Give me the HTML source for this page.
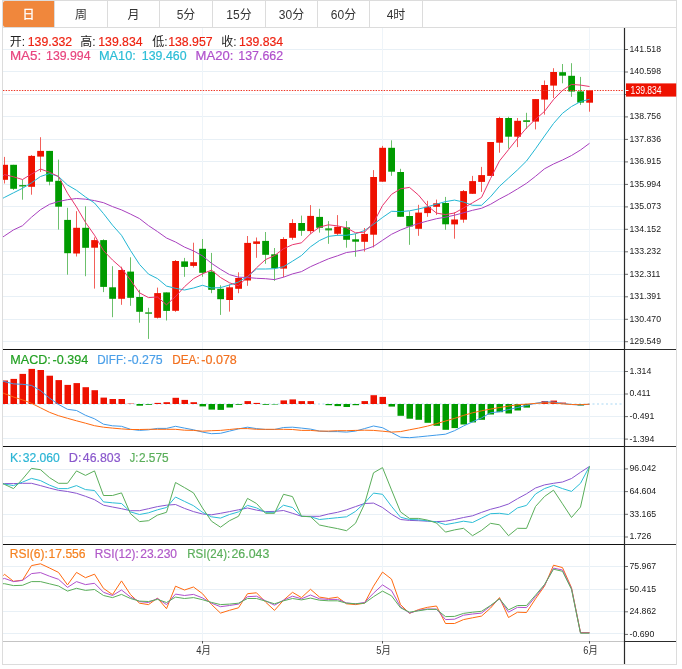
<!DOCTYPE html>
<html lang="zh"><head><meta charset="utf-8"><title>K线图</title>
<style>html,body{margin:0;padding:0;background:#fff}svg{display:block;will-change:transform}text{font-family:"Liberation Sans","Noto Sans CJK SC",sans-serif}</style></head><body>
<svg width="682" height="669" viewBox="0 0 682 669">
<rect width="682" height="669" fill="#fff"/>
<defs><clipPath id="cp"><rect x="3" y="28" width="621.5" height="614"/></clipPath></defs>
<rect x="3" y="49.0" width="621" height="1" fill="#e8f0f6"/>
<rect x="3" y="71.0" width="621" height="1" fill="#e8f0f6"/>
<rect x="3" y="94.0" width="621" height="1" fill="#e8f0f6"/>
<rect x="3" y="116.0" width="621" height="1" fill="#e8f0f6"/>
<rect x="3" y="139.0" width="621" height="1" fill="#e8f0f6"/>
<rect x="3" y="161.0" width="621" height="1" fill="#e8f0f6"/>
<rect x="3" y="184.0" width="621" height="1" fill="#e8f0f6"/>
<rect x="3" y="206.0" width="621" height="1" fill="#e8f0f6"/>
<rect x="3" y="229.0" width="621" height="1" fill="#e8f0f6"/>
<rect x="3" y="251.0" width="621" height="1" fill="#e8f0f6"/>
<rect x="3" y="274.0" width="621" height="1" fill="#e8f0f6"/>
<rect x="3" y="296.0" width="621" height="1" fill="#e8f0f6"/>
<rect x="3" y="319.0" width="621" height="1" fill="#e8f0f6"/>
<rect x="3" y="341.0" width="621" height="1" fill="#e8f0f6"/>
<rect x="3" y="371.0" width="621" height="1" fill="#e8f0f6"/>
<rect x="3" y="394.0" width="621" height="1" fill="#e8f0f6"/>
<rect x="3" y="416.0" width="621" height="1" fill="#e8f0f6"/>
<rect x="3" y="438.0" width="621" height="1" fill="#e8f0f6"/>
<rect x="3" y="469.0" width="621" height="1" fill="#e8f0f6"/>
<rect x="3" y="491.0" width="621" height="1" fill="#e8f0f6"/>
<rect x="3" y="514.0" width="621" height="1" fill="#e8f0f6"/>
<rect x="3" y="536.0" width="621" height="1" fill="#e8f0f6"/>
<rect x="3" y="566.0" width="621" height="1" fill="#e8f0f6"/>
<rect x="3" y="589.0" width="621" height="1" fill="#e8f0f6"/>
<rect x="3" y="611.0" width="621" height="1" fill="#e8f0f6"/>
<rect x="3" y="633.0" width="621" height="1" fill="#e8f0f6"/>
<rect x="202.0" y="28" width="1" height="613" fill="#eef4f9"/>
<rect x="382.0" y="28" width="1" height="613" fill="#eef4f9"/>
<rect x="589.0" y="28" width="1" height="613" fill="#eef4f9"/>
<line x1="3" y1="404" x2="624" y2="404" stroke="#a9d8f3" stroke-width="1.2" stroke-dasharray="2 2.5"/>
<g clip-path="url(#cp)">
<rect x="4.0" y="156.9" width="1" height="26.6" fill="#f2605a"/>
<rect x="1.20" y="164.8" width="6.8" height="15.0" fill="#ee1100"/>
<rect x="13.0" y="164.8" width="1" height="25.2" fill="#6cc06c"/>
<rect x="10.20" y="164.8" width="6.8" height="24.0" fill="#009b00"/>
<rect x="22.0" y="179.5" width="1" height="20.2" fill="#6cc06c"/>
<rect x="19.20" y="185.0" width="6.8" height="1.5" fill="#22a422"/>
<rect x="31.0" y="155.1" width="1" height="39.6" fill="#f2605a"/>
<rect x="28.20" y="155.9" width="6.8" height="30.9" fill="#ee1100"/>
<rect x="40.0" y="137.2" width="1" height="34.8" fill="#f2605a"/>
<rect x="37.20" y="150.9" width="6.8" height="5.7" fill="#ee1100"/>
<rect x="49.0" y="150.9" width="1" height="34.4" fill="#6cc06c"/>
<rect x="46.20" y="150.9" width="6.8" height="30.8" fill="#009b00"/>
<rect x="58.0" y="159.6" width="1" height="70.0" fill="#6cc06c"/>
<rect x="55.20" y="180.8" width="6.8" height="25.9" fill="#009b00"/>
<rect x="67.0" y="207.8" width="1" height="66.9" fill="#6cc06c"/>
<rect x="64.20" y="219.9" width="6.8" height="33.3" fill="#009b00"/>
<rect x="76.0" y="211.2" width="1" height="45.3" fill="#f2605a"/>
<rect x="73.20" y="227.8" width="6.8" height="25.7" fill="#ee1100"/>
<rect x="85.0" y="206.3" width="1" height="69.9" fill="#6cc06c"/>
<rect x="82.20" y="227.8" width="6.8" height="20.0" fill="#009b00"/>
<rect x="94.0" y="237.4" width="1" height="51.2" fill="#f2605a"/>
<rect x="91.20" y="240.1" width="6.8" height="7.6" fill="#ee1100"/>
<rect x="103.0" y="239.3" width="1" height="52.8" fill="#6cc06c"/>
<rect x="100.20" y="240.1" width="6.8" height="46.8" fill="#009b00"/>
<rect x="112.0" y="266.2" width="1" height="51.0" fill="#6cc06c"/>
<rect x="109.20" y="287.3" width="6.8" height="11.5" fill="#009b00"/>
<rect x="121.0" y="266.7" width="1" height="38.1" fill="#f2605a"/>
<rect x="118.20" y="270.0" width="6.8" height="28.8" fill="#ee1100"/>
<rect x="130.0" y="257.3" width="1" height="48.5" fill="#6cc06c"/>
<rect x="127.20" y="271.6" width="6.8" height="26.2" fill="#009b00"/>
<rect x="139.0" y="289.8" width="1" height="32.9" fill="#6cc06c"/>
<rect x="136.20" y="297.0" width="6.8" height="14.8" fill="#009b00"/>
<rect x="148.0" y="307.8" width="1" height="31.1" fill="#6cc06c"/>
<rect x="145.20" y="312.3" width="6.8" height="1.5" fill="#22a422"/>
<rect x="157.0" y="287.6" width="1" height="30.9" fill="#f2605a"/>
<rect x="154.20" y="293.1" width="6.8" height="24.7" fill="#ee1100"/>
<rect x="166.0" y="292.4" width="1" height="28.1" fill="#6cc06c"/>
<rect x="163.20" y="292.4" width="6.8" height="18.5" fill="#009b00"/>
<rect x="175.0" y="260.0" width="1" height="51.8" fill="#f2605a"/>
<rect x="172.20" y="261.0" width="6.8" height="49.8" fill="#ee1100"/>
<rect x="184.0" y="257.9" width="1" height="18.9" fill="#6cc06c"/>
<rect x="181.20" y="261.4" width="6.8" height="5.5" fill="#009b00"/>
<rect x="193.0" y="242.7" width="1" height="24.8" fill="#f2605a"/>
<rect x="190.20" y="262.2" width="6.8" height="3.7" fill="#ee1100"/>
<rect x="202.0" y="239.0" width="1" height="37.8" fill="#6cc06c"/>
<rect x="199.20" y="248.8" width="6.8" height="24.0" fill="#009b00"/>
<rect x="211.0" y="252.9" width="1" height="40.3" fill="#6cc06c"/>
<rect x="208.20" y="271.6" width="6.8" height="18.2" fill="#009b00"/>
<rect x="220.0" y="285.3" width="1" height="29.6" fill="#6cc06c"/>
<rect x="217.20" y="288.8" width="6.8" height="10.4" fill="#009b00"/>
<rect x="229.0" y="284.3" width="1" height="27.3" fill="#f2605a"/>
<rect x="226.20" y="287.3" width="6.8" height="12.7" fill="#ee1100"/>
<rect x="238.0" y="272.3" width="1" height="20.9" fill="#f2605a"/>
<rect x="235.20" y="278.0" width="6.8" height="10.8" fill="#ee1100"/>
<rect x="247.0" y="236.0" width="1" height="49.8" fill="#f2605a"/>
<rect x="244.20" y="242.9" width="6.8" height="37.6" fill="#ee1100"/>
<rect x="256.0" y="237.5" width="1" height="20.3" fill="#f2605a"/>
<rect x="253.20" y="241.4" width="6.8" height="2.5" fill="#ee1100"/>
<rect x="265.0" y="232.0" width="1" height="31.8" fill="#6cc06c"/>
<rect x="262.20" y="240.9" width="6.8" height="13.9" fill="#009b00"/>
<rect x="274.0" y="248.0" width="1" height="32.8" fill="#6cc06c"/>
<rect x="271.20" y="254.3" width="6.8" height="13.9" fill="#009b00"/>
<rect x="283.0" y="237.2" width="1" height="40.0" fill="#f2605a"/>
<rect x="280.20" y="239.0" width="6.8" height="29.6" fill="#ee1100"/>
<rect x="292.0" y="219.2" width="1" height="20.6" fill="#f2605a"/>
<rect x="289.20" y="223.0" width="6.8" height="14.8" fill="#ee1100"/>
<rect x="301.0" y="215.6" width="1" height="20.2" fill="#6cc06c"/>
<rect x="298.20" y="223.0" width="6.8" height="7.8" fill="#009b00"/>
<rect x="310.0" y="205.1" width="1" height="28.7" fill="#f2605a"/>
<rect x="307.20" y="215.9" width="6.8" height="15.2" fill="#ee1100"/>
<rect x="319.0" y="208.8" width="1" height="23.8" fill="#6cc06c"/>
<rect x="316.20" y="216.9" width="6.8" height="10.9" fill="#009b00"/>
<rect x="328.0" y="221.1" width="1" height="22.7" fill="#6cc06c"/>
<rect x="325.20" y="228.3" width="6.8" height="2.1" fill="#22a422"/>
<rect x="337.0" y="215.1" width="1" height="20.5" fill="#f2605a"/>
<rect x="334.20" y="226.8" width="6.8" height="7.0" fill="#ee1100"/>
<rect x="346.0" y="221.1" width="1" height="26.6" fill="#6cc06c"/>
<rect x="343.20" y="227.4" width="6.8" height="12.4" fill="#009b00"/>
<rect x="355.0" y="233.8" width="1" height="22.9" fill="#6cc06c"/>
<rect x="352.20" y="239.3" width="6.8" height="2.4" fill="#009b00"/>
<rect x="364.0" y="228.0" width="1" height="23.6" fill="#f2605a"/>
<rect x="361.20" y="233.9" width="6.8" height="7.9" fill="#ee1100"/>
<rect x="373.0" y="170.1" width="1" height="77.3" fill="#f2605a"/>
<rect x="370.20" y="177.0" width="6.8" height="57.7" fill="#ee1100"/>
<rect x="382.0" y="145.9" width="1" height="35.8" fill="#f2605a"/>
<rect x="379.20" y="147.8" width="6.8" height="33.9" fill="#ee1100"/>
<rect x="391.0" y="140.3" width="1" height="35.5" fill="#6cc06c"/>
<rect x="388.20" y="147.8" width="6.8" height="23.9" fill="#009b00"/>
<rect x="400.0" y="168.8" width="1" height="48.0" fill="#6cc06c"/>
<rect x="397.20" y="172.0" width="6.8" height="44.8" fill="#009b00"/>
<rect x="409.0" y="211.3" width="1" height="33.5" fill="#6cc06c"/>
<rect x="406.20" y="216.0" width="6.8" height="10.5" fill="#009b00"/>
<rect x="418.0" y="204.8" width="1" height="31.0" fill="#f2605a"/>
<rect x="415.20" y="212.6" width="6.8" height="16.2" fill="#ee1100"/>
<rect x="427.0" y="200.8" width="1" height="16.0" fill="#f2605a"/>
<rect x="424.20" y="206.8" width="6.8" height="6.3" fill="#ee1100"/>
<rect x="436.0" y="199.6" width="1" height="15.3" fill="#f2605a"/>
<rect x="433.20" y="203.3" width="6.8" height="3.5" fill="#ee1100"/>
<rect x="445.0" y="196.9" width="1" height="32.9" fill="#6cc06c"/>
<rect x="442.20" y="203.0" width="6.8" height="21.3" fill="#009b00"/>
<rect x="454.0" y="212.3" width="1" height="26.4" fill="#f2605a"/>
<rect x="451.20" y="219.5" width="6.8" height="4.9" fill="#ee1100"/>
<rect x="463.0" y="190.0" width="1" height="32.7" fill="#f2605a"/>
<rect x="460.20" y="191.1" width="6.8" height="28.6" fill="#ee1100"/>
<rect x="472.0" y="175.9" width="1" height="17.9" fill="#f2605a"/>
<rect x="469.20" y="181.1" width="6.8" height="12.7" fill="#ee1100"/>
<rect x="481.0" y="166.9" width="1" height="25.0" fill="#f2605a"/>
<rect x="478.20" y="175.1" width="6.8" height="6.8" fill="#ee1100"/>
<rect x="490.0" y="142.0" width="1" height="33.9" fill="#f2605a"/>
<rect x="487.20" y="142.0" width="6.8" height="33.9" fill="#ee1100"/>
<rect x="499.0" y="116.8" width="1" height="35.9" fill="#f2605a"/>
<rect x="496.20" y="118.0" width="6.8" height="24.7" fill="#ee1100"/>
<rect x="508.0" y="116.8" width="1" height="31.8" fill="#6cc06c"/>
<rect x="505.20" y="118.0" width="6.8" height="18.7" fill="#009b00"/>
<rect x="517.0" y="118.0" width="1" height="29.1" fill="#f2605a"/>
<rect x="514.20" y="120.8" width="6.8" height="15.9" fill="#ee1100"/>
<rect x="526.0" y="112.8" width="1" height="16.0" fill="#6cc06c"/>
<rect x="523.20" y="120.2" width="6.8" height="1.8" fill="#22a422"/>
<rect x="535.0" y="99.1" width="1" height="30.3" fill="#f2605a"/>
<rect x="532.20" y="99.1" width="6.8" height="22.5" fill="#ee1100"/>
<rect x="544.0" y="80.5" width="1" height="34.1" fill="#f2605a"/>
<rect x="541.20" y="85.0" width="6.8" height="14.6" fill="#ee1100"/>
<rect x="553.0" y="68.2" width="1" height="29.8" fill="#f2605a"/>
<rect x="550.20" y="72.0" width="6.8" height="13.6" fill="#ee1100"/>
<rect x="562.0" y="64.0" width="1" height="19.3" fill="#6cc06c"/>
<rect x="559.20" y="72.2" width="6.8" height="3.5" fill="#009b00"/>
<rect x="571.0" y="63.2" width="1" height="33.6" fill="#6cc06c"/>
<rect x="568.20" y="75.8" width="6.8" height="15.7" fill="#009b00"/>
<rect x="580.0" y="76.9" width="1" height="28.0" fill="#6cc06c"/>
<rect x="577.20" y="91.4" width="6.8" height="11.2" fill="#009b00"/>
<rect x="589.0" y="90.3" width="1" height="21.4" fill="#f2605a"/>
<rect x="586.20" y="90.3" width="6.8" height="12.4" fill="#ee1100"/>
<rect x="1.5" y="380.5" width="6.5" height="23.5" fill="#ee1100"/>
<rect x="10.5" y="378.9" width="6.5" height="25.1" fill="#ee1100"/>
<rect x="19.5" y="373.9" width="6.5" height="30.1" fill="#ee1100"/>
<rect x="28.5" y="368.9" width="6.5" height="35.1" fill="#ee1100"/>
<rect x="37.5" y="370.0" width="6.5" height="34.0" fill="#ee1100"/>
<rect x="46.5" y="375.7" width="6.5" height="28.3" fill="#ee1100"/>
<rect x="55.5" y="380.1" width="6.5" height="23.9" fill="#ee1100"/>
<rect x="64.5" y="384.9" width="6.5" height="19.1" fill="#ee1100"/>
<rect x="73.5" y="383.1" width="6.5" height="20.9" fill="#ee1100"/>
<rect x="82.5" y="387.2" width="6.5" height="16.8" fill="#ee1100"/>
<rect x="91.5" y="390.2" width="6.5" height="13.8" fill="#ee1100"/>
<rect x="100.5" y="397.6" width="6.5" height="6.4" fill="#ee1100"/>
<rect x="109.5" y="399.0" width="6.5" height="5.0" fill="#ee1100"/>
<rect x="118.5" y="399.0" width="6.5" height="5.0" fill="#ee1100"/>
<rect x="127.5" y="403.6" width="6.5" height="0.4" fill="#ee1100"/>
<rect x="136.5" y="404" width="6.5" height="1.7" fill="#009b00"/>
<rect x="145.5" y="404" width="6.5" height="0.8" fill="#009b00"/>
<rect x="154.5" y="402.9" width="6.5" height="1.1" fill="#ee1100"/>
<rect x="163.5" y="402.2" width="6.5" height="1.8" fill="#ee1100"/>
<rect x="172.5" y="397.8" width="6.5" height="6.2" fill="#ee1100"/>
<rect x="181.5" y="399.9" width="6.5" height="4.1" fill="#ee1100"/>
<rect x="190.5" y="402.2" width="6.5" height="1.8" fill="#ee1100"/>
<rect x="199.5" y="404" width="6.5" height="2.4" fill="#009b00"/>
<rect x="208.5" y="404" width="6.5" height="5.6" fill="#009b00"/>
<rect x="217.5" y="404" width="6.5" height="5.9" fill="#009b00"/>
<rect x="226.5" y="404" width="6.5" height="3.5" fill="#009b00"/>
<rect x="235.5" y="404" width="6.5" height="0.8" fill="#009b00"/>
<rect x="244.5" y="401.1" width="6.5" height="2.9" fill="#ee1100"/>
<rect x="253.5" y="402.9" width="6.5" height="1.1" fill="#ee1100"/>
<rect x="262.5" y="404" width="6.5" height="0.8" fill="#009b00"/>
<rect x="271.5" y="404" width="6.5" height="0.5" fill="#009b00"/>
<rect x="280.5" y="400.4" width="6.5" height="3.6" fill="#ee1100"/>
<rect x="289.5" y="399.4" width="6.5" height="4.6" fill="#ee1100"/>
<rect x="298.5" y="401.1" width="6.5" height="2.9" fill="#ee1100"/>
<rect x="307.5" y="401.1" width="6.5" height="2.9" fill="#ee1100"/>
<rect x="325.5" y="404" width="6.5" height="1.2" fill="#009b00"/>
<rect x="334.5" y="404" width="6.5" height="2.1" fill="#009b00"/>
<rect x="343.5" y="404" width="6.5" height="3.0" fill="#009b00"/>
<rect x="352.5" y="404" width="6.5" height="1.2" fill="#009b00"/>
<rect x="361.5" y="401.1" width="6.5" height="2.9" fill="#ee1100"/>
<rect x="370.5" y="395.2" width="6.5" height="8.8" fill="#ee1100"/>
<rect x="379.5" y="396.9" width="6.5" height="7.1" fill="#ee1100"/>
<rect x="388.5" y="404" width="6.5" height="2.6" fill="#009b00"/>
<rect x="397.5" y="404" width="6.5" height="11.8" fill="#009b00"/>
<rect x="406.5" y="404" width="6.5" height="14.7" fill="#009b00"/>
<rect x="415.5" y="404" width="6.5" height="15.8" fill="#009b00"/>
<rect x="424.5" y="404" width="6.5" height="18.8" fill="#009b00"/>
<rect x="433.5" y="404" width="6.5" height="21.8" fill="#009b00"/>
<rect x="442.5" y="404" width="6.5" height="25.8" fill="#009b00"/>
<rect x="451.5" y="404" width="6.5" height="24.1" fill="#009b00"/>
<rect x="460.5" y="404" width="6.5" height="20.5" fill="#009b00"/>
<rect x="469.5" y="404" width="6.5" height="18.4" fill="#009b00"/>
<rect x="478.5" y="404" width="6.5" height="15.8" fill="#009b00"/>
<rect x="487.5" y="404" width="6.5" height="10.5" fill="#009b00"/>
<rect x="496.5" y="404" width="6.5" height="8.2" fill="#009b00"/>
<rect x="505.5" y="404" width="6.5" height="9.5" fill="#009b00"/>
<rect x="514.5" y="404" width="6.5" height="6.5" fill="#009b00"/>
<rect x="523.5" y="404" width="6.5" height="3.6" fill="#009b00"/>
<rect x="541.5" y="401.0" width="6.5" height="3.0" fill="#ee1100"/>
<rect x="550.5" y="400.6" width="6.5" height="3.4" fill="#ee1100"/>
<rect x="559.5" y="402.6" width="6.5" height="1.4" fill="#ee1100"/>
<rect x="577.5" y="404" width="6.5" height="1.5" fill="#009b00"/>
<polyline points="3.0,236.9 4.5,235.9 13.5,229.9 22.5,225.7 31.5,217.2 40.5,209.7 49.5,204.3 58.5,201.5 67.5,199.7 76.5,198.5 85.5,199.2 94.5,200.6 103.5,202.7 112.5,206.6 121.5,209.9 130.5,214.1 139.5,218.6 148.5,225.6 157.5,231.6 166.5,238.0 175.5,242.0 184.5,247.1 193.5,250.9 202.5,255.9 211.5,263.3 220.5,269.3 229.5,274.6 238.5,277.2 247.5,277.5 256.5,278.3 265.5,278.7 274.5,279.6 283.5,277.2 292.5,273.9 301.5,271.6 310.5,266.7 319.5,262.7 328.5,258.8 337.5,255.8 346.5,252.5 355.5,251.3 364.5,249.6 373.5,246.4 382.5,240.3 391.5,234.3 400.5,230.0 409.5,226.5 418.5,223.5 427.5,221.0 436.5,218.7 445.5,217.2 454.5,215.2 463.5,212.8 472.5,210.3 481.5,208.3 490.5,204.3 499.5,199.0 508.5,194.3 517.5,188.9 526.5,183.3 535.5,176.3 544.5,168.8 553.5,164.0 562.5,160.0 571.5,155.5 580.5,150.0 589.5,143.3" fill="none" stroke="#a840be" stroke-width="1.00" stroke-linejoin="round"/>
<polyline points="3.0,198.2 4.5,197.4 13.5,192.8 22.5,188.3 31.5,182.8 40.5,176.5 49.5,173.5 58.5,176.5 67.5,185.0 76.5,190.3 85.5,197.0 94.5,203.0 103.5,213.6 112.5,225.2 121.5,235.3 130.5,250.5 139.5,264.4 148.5,274.1 157.5,278.6 166.5,286.1 175.5,288.3 184.5,290.0 193.5,288.0 202.5,285.3 211.5,288.0 220.5,287.6 229.5,285.0 238.5,282.0 247.5,276.5 256.5,269.0 265.5,269.0 274.5,268.7 283.5,266.7 292.5,261.2 301.5,255.5 310.5,246.8 319.5,240.5 328.5,236.4 337.5,235.3 346.5,235.3 355.5,233.8 364.5,230.5 373.5,224.3 382.5,217.5 391.5,211.3 400.5,211.6 409.5,210.8 418.5,209.0 427.5,206.8 436.5,204.1 445.5,201.6 454.5,200.1 463.5,202.0 472.5,205.3 481.5,205.3 490.5,196.8 499.5,186.3 508.5,178.1 517.5,169.9 526.5,161.0 535.5,148.8 544.5,136.0 553.5,123.5 562.5,113.3 571.5,106.5 580.5,101.6 589.5,99.3" fill="none" stroke="#22b6d3" stroke-width="1.00" stroke-linejoin="round"/>
<polyline points="3.0,176.0 4.5,174.6 13.5,176.8 22.5,179.5 31.5,174.1 40.5,169.0 49.5,172.3 58.5,176.5 67.5,193.2 76.5,207.0 85.5,222.4 94.5,235.2 103.5,250.6 112.5,260.0 121.5,268.0 130.5,280.1 139.5,292.8 148.5,297.6 157.5,297.0 166.5,304.8 175.5,296.6 184.5,286.7 193.5,278.7 202.5,273.8 211.5,270.1 220.5,277.5 229.5,282.8 238.5,285.8 247.5,276.8 256.5,267.8 265.5,259.6 274.5,255.6 283.5,248.8 292.5,244.7 301.5,242.8 310.5,233.8 319.5,227.1 328.5,224.8 337.5,225.9 346.5,227.8 355.5,232.8 364.5,232.2 373.5,222.8 382.5,205.6 391.5,194.4 400.5,188.8 409.5,187.4 418.5,195.1 427.5,205.9 436.5,213.1 445.5,214.6 454.5,213.0 463.5,208.0 472.5,202.8 481.5,197.5 490.5,178.6 499.5,160.9 508.5,149.7 517.5,138.5 526.5,128.0 535.5,119.3 544.5,111.4 553.5,99.6 562.5,90.4 571.5,84.4 580.5,85.1 589.5,86.5" fill="none" stroke="#e8356c" stroke-width="1.00" stroke-linejoin="round"/>
<polyline points="3.0,381.2 4.5,381.6 13.5,383.9 22.5,384.3 31.5,385.4 40.5,390.6 49.5,398.1 58.5,404.4 67.5,409.3 76.5,410.5 85.5,415.3 94.5,418.8 103.5,424.2 112.5,425.8 121.5,426.3 130.5,429.3 139.5,430.4 148.5,429.8 157.5,428.4 166.5,428.4 175.5,426.3 184.5,428.1 193.5,429.8 202.5,432.1 211.5,433.7 220.5,433.3 229.5,431.1 238.5,428.9 247.5,427.2 256.5,428.6 265.5,429.5 274.5,429.5 283.5,427.5 292.5,427.2 301.5,428.1 310.5,429.1 319.5,431.1 328.5,431.6 337.5,431.6 346.5,432.1 355.5,431.1 364.5,428.6 373.5,426.0 382.5,427.7 391.5,432.5 400.5,437.2 409.5,437.7 418.5,436.9 427.5,436.0 436.5,435.1 445.5,434.2 454.5,430.7 463.5,426.0 472.5,421.9 481.5,417.9 490.5,412.8 499.5,411.7 508.5,409.6 517.5,407.5 526.5,405.4 535.5,403.3 544.5,401.8 553.5,402.1 562.5,403.4 571.5,404.5 580.5,405.0 589.5,404.2" fill="none" stroke="#3f9bea" stroke-width="1.00" stroke-linejoin="round"/>
<polyline points="3.0,393.0 4.5,393.6 13.5,397.0 22.5,399.9 31.5,403.3 40.5,407.8 49.5,412.3 58.5,415.7 67.5,418.3 76.5,420.8 85.5,423.2 94.5,425.7 103.5,427.2 112.5,428.1 121.5,428.9 130.5,429.5 139.5,429.5 148.5,429.3 157.5,429.3 166.5,429.3 175.5,429.3 184.5,430.2 193.5,430.4 202.5,431.2 211.5,430.7 220.5,430.4 229.5,429.5 238.5,428.6 247.5,428.6 256.5,429.3 265.5,429.3 274.5,429.3 283.5,429.3 292.5,429.5 301.5,430.4 310.5,430.4 319.5,431.1 328.5,431.1 337.5,430.7 346.5,430.7 355.5,430.4 364.5,430.2 373.5,430.4 382.5,431.2 391.5,432.1 400.5,431.6 409.5,429.8 418.5,428.1 427.5,426.1 436.5,423.7 445.5,421.0 454.5,418.4 463.5,415.4 472.5,412.8 481.5,410.8 490.5,409.1 499.5,407.5 508.5,406.1 517.5,404.8 526.5,404.1 535.5,403.4 544.5,402.9 553.5,402.9 562.5,403.9 571.5,404.5 580.5,404.7 589.5,404.2" fill="none" stroke="#ff6a10" stroke-width="1.00" stroke-linejoin="round"/>
<polyline points="3.0,483.6 4.5,483.6 13.5,483.6 22.5,483.3 31.5,483.3 40.5,485.6 49.5,488.1 58.5,490.3 67.5,491.5 76.5,493.3 85.5,496.3 94.5,499.7 103.5,505.2 112.5,507.0 121.5,508.7 130.5,510.7 139.5,510.7 148.5,508.7 157.5,506.6 166.5,505.2 175.5,504.5 184.5,508.4 193.5,511.6 202.5,514.0 211.5,514.8 220.5,513.3 229.5,511.6 238.5,509.8 247.5,508.0 256.5,510.1 265.5,511.6 274.5,511.4 283.5,510.5 292.5,513.3 301.5,516.3 310.5,516.3 319.5,516.3 328.5,514.0 337.5,512.3 346.5,509.8 355.5,506.6 364.5,503.5 373.5,503.1 382.5,507.5 391.5,514.2 400.5,519.5 409.5,520.4 418.5,520.7 427.5,521.2 436.5,521.6 445.5,521.2 454.5,519.5 463.5,517.5 472.5,515.8 481.5,512.4 490.5,509.3 499.5,507.0 508.5,504.0 517.5,498.7 526.5,493.8 535.5,488.0 544.5,484.9 553.5,483.3 562.5,482.0 571.5,478.5 580.5,472.3 589.5,466.4" fill="none" stroke="#8a55cf" stroke-width="1.00" stroke-linejoin="round"/>
<polyline points="3.0,483.9 4.5,484.1 13.5,485.6 22.5,482.1 31.5,478.4 40.5,480.6 49.5,485.1 58.5,488.6 67.5,488.6 76.5,485.6 85.5,489.6 94.5,490.5 103.5,501.9 112.5,502.8 121.5,503.5 130.5,511.9 139.5,514.5 148.5,512.8 157.5,509.8 166.5,507.5 175.5,497.0 184.5,501.4 193.5,505.7 202.5,512.3 211.5,516.8 220.5,518.1 229.5,514.5 238.5,511.9 247.5,505.4 256.5,507.9 265.5,512.3 274.5,512.3 283.5,505.2 292.5,507.5 301.5,516.3 310.5,516.7 319.5,519.5 328.5,518.6 337.5,517.7 346.5,516.8 355.5,511.4 364.5,503.1 373.5,493.1 382.5,494.3 391.5,506.3 400.5,517.2 409.5,519.5 418.5,519.8 427.5,520.9 436.5,521.9 445.5,524.6 454.5,523.0 463.5,521.2 472.5,522.5 481.5,518.1 490.5,513.7 499.5,513.3 508.5,514.5 517.5,507.9 526.5,505.4 535.5,494.0 544.5,488.6 553.5,485.4 562.5,488.6 571.5,491.4 580.5,483.3 589.5,466.4" fill="none" stroke="#2bbdd6" stroke-width="1.00" stroke-linejoin="round"/>
<polyline points="3.0,483.7 4.5,484.4 13.5,488.6 22.5,479.1 31.5,468.4 40.5,469.7 49.5,477.6 58.5,483.3 67.5,483.3 76.5,470.9 85.5,475.4 94.5,470.9 103.5,495.5 112.5,495.5 121.5,492.9 130.5,513.7 139.5,521.6 148.5,520.7 157.5,515.1 166.5,512.3 175.5,482.5 184.5,487.6 193.5,492.9 202.5,508.0 211.5,521.2 220.5,527.2 229.5,520.7 238.5,516.3 247.5,498.4 256.5,503.5 265.5,513.3 274.5,513.3 283.5,494.3 292.5,496.6 301.5,516.3 310.5,516.7 319.5,525.0 328.5,526.9 337.5,528.6 346.5,530.7 355.5,523.3 364.5,504.0 373.5,472.8 382.5,467.6 391.5,489.9 400.5,511.9 409.5,518.4 418.5,518.4 427.5,520.1 436.5,523.0 445.5,532.1 454.5,529.9 463.5,528.3 472.5,535.7 481.5,530.4 490.5,523.3 499.5,524.8 508.5,535.7 517.5,528.3 526.5,528.4 535.5,506.5 544.5,496.5 553.5,490.2 562.5,503.8 571.5,517.5 580.5,507.0 589.5,466.4" fill="none" stroke="#5aae5a" stroke-width="1.00" stroke-linejoin="round"/>
<polyline points="3.0,575.8 4.5,574.3 13.5,581.3 22.5,580.2 31.5,565.6 40.5,563.8 49.5,568.0 58.5,572.4 67.5,584.9 76.5,572.4 85.5,577.7 94.5,574.2 103.5,588.4 112.5,594.6 121.5,580.9 130.5,594.6 139.5,603.2 148.5,604.6 157.5,598.1 166.5,608.7 175.5,586.2 184.5,590.0 193.5,587.0 202.5,593.7 211.5,604.5 220.5,613.1 229.5,610.3 238.5,607.8 247.5,593.7 256.5,592.8 265.5,602.0 274.5,610.4 283.5,600.2 292.5,592.3 301.5,597.6 310.5,589.3 319.5,597.1 328.5,598.5 337.5,597.2 346.5,603.8 355.5,604.6 364.5,603.2 373.5,586.2 382.5,572.1 391.5,579.1 400.5,604.6 409.5,613.4 418.5,609.6 427.5,607.3 436.5,606.0 445.5,623.5 454.5,623.5 463.5,619.6 472.5,617.8 481.5,616.1 490.5,608.1 499.5,597.6 508.5,617.5 517.5,612.2 526.5,612.5 535.5,598.8 544.5,586.1 553.5,565.2 562.5,567.6 571.5,587.7 580.5,632.6 589.5,632.6" fill="none" stroke="#ff6a10" stroke-width="1.00" stroke-linejoin="round"/>
<polyline points="3.0,578.9 4.5,578.4 13.5,581.6 22.5,580.4 31.5,573.6 40.5,572.6 49.5,576.2 58.5,579.3 67.5,587.4 76.5,581.6 85.5,584.6 94.5,583.3 103.5,592.3 112.5,595.5 121.5,590.0 130.5,597.1 139.5,601.6 148.5,602.5 157.5,598.5 166.5,604.6 175.5,594.1 184.5,595.5 193.5,594.4 202.5,597.9 211.5,603.2 220.5,606.7 229.5,605.5 238.5,604.1 247.5,596.7 256.5,596.2 265.5,600.8 274.5,605.2 283.5,600.2 292.5,596.2 301.5,598.8 310.5,595.0 319.5,598.8 328.5,599.4 337.5,599.4 346.5,602.9 355.5,603.8 364.5,602.5 373.5,593.2 382.5,584.9 391.5,590.6 400.5,606.7 409.5,613.1 418.5,610.3 427.5,609.0 436.5,609.0 445.5,619.6 454.5,619.2 463.5,615.2 472.5,614.0 481.5,613.1 490.5,606.0 499.5,598.8 508.5,612.2 517.5,607.3 526.5,607.6 535.5,596.6 544.5,585.3 553.5,568.1 562.5,570.0 571.5,588.5 580.5,632.9 589.5,632.9" fill="none" stroke="#b050cc" stroke-width="1.00" stroke-linejoin="round"/>
<polyline points="3.0,583.7 4.5,583.7 13.5,585.6 22.5,585.3 31.5,581.6 40.5,581.6 49.5,583.8 58.5,586.0 67.5,591.1 76.5,588.3 85.5,590.4 94.5,589.5 103.5,595.5 112.5,597.6 121.5,594.4 130.5,598.5 139.5,601.1 148.5,601.5 157.5,599.4 166.5,602.5 175.5,597.1 184.5,598.5 193.5,597.6 202.5,599.7 211.5,602.4 220.5,604.6 229.5,604.1 238.5,603.2 247.5,598.5 256.5,598.5 265.5,601.1 274.5,603.8 283.5,600.8 292.5,598.5 301.5,599.9 310.5,598.1 319.5,600.2 328.5,600.8 337.5,600.8 346.5,603.2 355.5,603.8 364.5,603.2 373.5,596.7 382.5,591.1 391.5,595.8 400.5,607.8 409.5,612.2 418.5,610.8 427.5,609.4 436.5,609.4 445.5,616.6 454.5,616.4 463.5,613.4 472.5,612.2 481.5,611.3 490.5,605.5 499.5,598.8 508.5,609.9 517.5,605.5 526.5,605.5 535.5,595.2 544.5,584.5 553.5,569.2 562.5,571.3 571.5,589.4 580.5,633.2 589.5,633.2" fill="none" stroke="#5aae5a" stroke-width="1.00" stroke-linejoin="round"/>
</g>
<line x1="3" y1="90.5" x2="626" y2="90.5" stroke="#ee3524" stroke-width="1" stroke-dasharray="1.4 1.3"/>
<rect x="2.5" y="0.5" width="674" height="664" fill="none" stroke="#dcdcdc" stroke-width="1"/>
<rect x="3" y="27" width="673" height="1" fill="#dcdcdc"/>
<rect x="3" y="1" width="20" height="26" rx="2" ry="2" fill="#f0873c"/><rect x="6" y="1" width="48" height="26" fill="#f0873c"/>
<rect x="54" y="1" width="1" height="26" fill="#dcdcdc"/>
<text x="28.50" y="19" font-size="12" text-anchor="middle" fill="#fff" stroke="#fff" stroke-width="0.3">日</text>
<rect x="107" y="1" width="1" height="26" fill="#dcdcdc"/>
<text x="81.00" y="19" font-size="12" text-anchor="middle" fill="#333">周</text>
<rect x="159" y="1" width="1" height="26" fill="#dcdcdc"/>
<text x="133.50" y="19" font-size="12" text-anchor="middle" fill="#333">月</text>
<rect x="212" y="1" width="1" height="26" fill="#dcdcdc"/>
<text x="186.00" y="19" font-size="12" text-anchor="middle" fill="#333">5分</text>
<rect x="265" y="1" width="1" height="26" fill="#dcdcdc"/>
<text x="239.00" y="19" font-size="12" text-anchor="middle" fill="#333">15分</text>
<rect x="317" y="1" width="1" height="26" fill="#dcdcdc"/>
<text x="291.50" y="19" font-size="12" text-anchor="middle" fill="#333">30分</text>
<rect x="369" y="1" width="1" height="26" fill="#dcdcdc"/>
<text x="343.50" y="19" font-size="12" text-anchor="middle" fill="#333">60分</text>
<rect x="422" y="1" width="1" height="26" fill="#dcdcdc"/>
<text x="396.00" y="19" font-size="12" text-anchor="middle" fill="#333">4时</text>
<rect x="3" y="641" width="622" height="1" fill="#c4c4c4"/>
<rect x="3" y="349" width="621" height="1" fill="#111"/>
<rect x="624" y="349" width="52" height="1" fill="#2c2c2c"/>
<rect x="3" y="446" width="621" height="1" fill="#111"/>
<rect x="624" y="446" width="52" height="1" fill="#2c2c2c"/>
<rect x="3" y="544" width="621" height="1" fill="#111"/>
<rect x="624" y="544" width="52" height="1" fill="#2c2c2c"/>
<rect x="624" y="641" width="52" height="1" fill="#2c2c2c"/>
<rect x="623.9" y="28" width="1.2" height="636" fill="#2a2a2a"/>
<rect x="202.0" y="641" width="1" height="2.5" fill="#555"/>
<rect x="382.0" y="641" width="1" height="2.5" fill="#555"/>
<rect x="589.0" y="641" width="1" height="2.5" fill="#555"/>
<rect x="625" y="49.0" width="3" height="1" fill="#6a6a6a"/>
<text transform="translate(629.5,51.9) scale(0.90,1)" font-size="9.7" fill="#1a1a1a">141.518</text>
<rect x="625" y="71.5" width="3" height="1" fill="#6a6a6a"/>
<text transform="translate(629.5,74.4) scale(0.90,1)" font-size="9.7" fill="#1a1a1a">140.598</text>
<rect x="625" y="94.0" width="3" height="1" fill="#6a6a6a"/>
<rect x="625" y="116.4" width="3" height="1" fill="#6a6a6a"/>
<text transform="translate(629.5,119.4) scale(0.90,1)" font-size="9.7" fill="#1a1a1a">138.756</text>
<rect x="625" y="138.9" width="3" height="1" fill="#6a6a6a"/>
<text transform="translate(629.5,141.9) scale(0.90,1)" font-size="9.7" fill="#1a1a1a">137.836</text>
<rect x="625" y="161.4" width="3" height="1" fill="#6a6a6a"/>
<text transform="translate(629.5,164.4) scale(0.90,1)" font-size="9.7" fill="#1a1a1a">136.915</text>
<rect x="625" y="183.9" width="3" height="1" fill="#6a6a6a"/>
<text transform="translate(629.5,186.8) scale(0.90,1)" font-size="9.7" fill="#1a1a1a">135.994</text>
<rect x="625" y="206.4" width="3" height="1" fill="#6a6a6a"/>
<text transform="translate(629.5,209.3) scale(0.90,1)" font-size="9.7" fill="#1a1a1a">135.073</text>
<rect x="625" y="228.8" width="3" height="1" fill="#6a6a6a"/>
<text transform="translate(629.5,231.8) scale(0.90,1)" font-size="9.7" fill="#1a1a1a">134.152</text>
<rect x="625" y="251.3" width="3" height="1" fill="#6a6a6a"/>
<text transform="translate(629.5,254.3) scale(0.90,1)" font-size="9.7" fill="#1a1a1a">133.232</text>
<rect x="625" y="273.8" width="3" height="1" fill="#6a6a6a"/>
<text transform="translate(629.5,276.8) scale(0.90,1)" font-size="9.7" fill="#1a1a1a">132.311</text>
<rect x="625" y="296.3" width="3" height="1" fill="#6a6a6a"/>
<text transform="translate(629.5,299.2) scale(0.90,1)" font-size="9.7" fill="#1a1a1a">131.391</text>
<rect x="625" y="318.8" width="3" height="1" fill="#6a6a6a"/>
<text transform="translate(629.5,321.7) scale(0.90,1)" font-size="9.7" fill="#1a1a1a">130.470</text>
<rect x="625" y="341.2" width="3" height="1" fill="#6a6a6a"/>
<text transform="translate(629.5,344.2) scale(0.90,1)" font-size="9.7" fill="#1a1a1a">129.549</text>
<rect x="625" y="371.0" width="3" height="1" fill="#6a6a6a"/>
<text transform="translate(629.5,373.9) scale(0.90,1)" font-size="9.7" fill="#1a1a1a">1.314</text>
<rect x="625" y="393.5" width="3" height="1" fill="#6a6a6a"/>
<text transform="translate(629.5,396.4) scale(0.90,1)" font-size="9.7" fill="#1a1a1a">0.411</text>
<rect x="625" y="416.1" width="3" height="1" fill="#6a6a6a"/>
<text transform="translate(629.5,419.1) scale(0.90,1)" font-size="9.7" fill="#1a1a1a">-0.491</text>
<rect x="625" y="438.6" width="3" height="1" fill="#6a6a6a"/>
<text transform="translate(629.5,441.6) scale(0.90,1)" font-size="9.7" fill="#1a1a1a">-1.394</text>
<rect x="625" y="468.4" width="3" height="1" fill="#6a6a6a"/>
<text transform="translate(629.5,471.4) scale(0.90,1)" font-size="9.7" fill="#1a1a1a">96.042</text>
<rect x="625" y="491.1" width="3" height="1" fill="#6a6a6a"/>
<text transform="translate(629.5,494.1) scale(0.90,1)" font-size="9.7" fill="#1a1a1a">64.604</text>
<rect x="625" y="513.8" width="3" height="1" fill="#6a6a6a"/>
<text transform="translate(629.5,516.8) scale(0.90,1)" font-size="9.7" fill="#1a1a1a">33.165</text>
<rect x="625" y="536.5" width="3" height="1" fill="#6a6a6a"/>
<text transform="translate(629.5,539.4) scale(0.90,1)" font-size="9.7" fill="#1a1a1a">1.726</text>
<rect x="625" y="566.0" width="3" height="1" fill="#6a6a6a"/>
<text transform="translate(629.5,568.9) scale(0.90,1)" font-size="9.7" fill="#1a1a1a">75.967</text>
<rect x="625" y="588.7" width="3" height="1" fill="#6a6a6a"/>
<text transform="translate(629.5,591.6) scale(0.90,1)" font-size="9.7" fill="#1a1a1a">50.415</text>
<rect x="625" y="611.3" width="3" height="1" fill="#6a6a6a"/>
<text transform="translate(629.5,614.2) scale(0.90,1)" font-size="9.7" fill="#1a1a1a">24.862</text>
<rect x="625" y="633.9" width="3" height="1" fill="#6a6a6a"/>
<text transform="translate(629.5,636.8) scale(0.90,1)" font-size="9.7" fill="#1a1a1a">-0.690</text>
<rect x="626" y="83.4" width="50.2" height="13.2" fill="#ee1100"/>
<rect x="625" y="90" width="3.5" height="1" fill="#fff"/>
<text transform="translate(630.6,93.7) scale(0.86,1)" font-size="10" fill="#fff">139.834</text>
<text transform="translate(203.5,654.2) scale(0.94,1)" font-size="10" text-anchor="middle" fill="#333">4月</text>
<text transform="translate(383.5,654.2) scale(0.94,1)" font-size="10" text-anchor="middle" fill="#333">5月</text>
<text transform="translate(590.5,654.2) scale(0.94,1)" font-size="10" text-anchor="middle" fill="#333">6月</text>
<text transform="translate(9.80,46.0) scale(1.000,1)" font-size="12" fill="#222" stroke="#222" stroke-width="0.0">开:</text>
<text transform="translate(27.73,46.0) scale(1.026,1)" font-size="12" fill="#ee2211" stroke="#ee2211" stroke-width="0.18">139.332</text>
<text transform="translate(80.35,46.0) scale(1.000,1)" font-size="12" fill="#222" stroke="#222" stroke-width="0.0">高:</text>
<text transform="translate(98.28,46.0) scale(1.020,1)" font-size="12" fill="#ee2211" stroke="#ee2211" stroke-width="0.18">139.834</text>
<text transform="translate(152.25,46.0) scale(1.000,1)" font-size="12" fill="#222" stroke="#222" stroke-width="0.0">低:</text>
<text transform="translate(168.13,46.0) scale(1.026,1)" font-size="12" fill="#ee2211" stroke="#ee2211" stroke-width="0.18">138.957</text>
<text transform="translate(221.35,46.0) scale(1.000,1)" font-size="12" fill="#222" stroke="#222" stroke-width="0.0">收:</text>
<text transform="translate(238.93,46.0) scale(1.020,1)" font-size="12" fill="#ee2211" stroke="#ee2211" stroke-width="0.18">139.834</text>
<text transform="translate(9.88,60.0) scale(1.120,1)" font-size="12" fill="#e8457e" stroke="#e8457e" stroke-width="0.18">MA5:</text>
<text transform="translate(46.03,60.0) scale(1.027,1)" font-size="12" fill="#e8457e" stroke="#e8457e" stroke-width="0.18">139.994</text>
<text transform="translate(98.94,60.0) scale(1.063,1)" font-size="12" fill="#2bbdd6" stroke="#2bbdd6" stroke-width="0.18">MA10:</text>
<text transform="translate(141.83,60.0) scale(1.032,1)" font-size="12" fill="#2bbdd6" stroke="#2bbdd6" stroke-width="0.18">139.460</text>
<text transform="translate(195.61,60.0) scale(1.090,1)" font-size="12" fill="#b050cc" stroke="#b050cc" stroke-width="0.18">MA20:</text>
<text transform="translate(238.22,60.0) scale(1.036,1)" font-size="12" fill="#b050cc" stroke="#b050cc" stroke-width="0.18">137.662</text>
<text transform="translate(10.25,363.6) scale(1.050,1)" font-size="12" fill="#22a022" stroke="#22a022" stroke-width="0.18">MACD:</text>
<text transform="translate(52.48,363.6) scale(1.050,1)" font-size="12" fill="#22a022" stroke="#22a022" stroke-width="0.18">-0.394</text>
<text transform="translate(97.13,363.6) scale(0.971,1)" font-size="12" fill="#4a9fe8" stroke="#4a9fe8" stroke-width="0.18">DIFF:</text>
<text transform="translate(127.69,363.6) scale(1.029,1)" font-size="12" fill="#4a9fe8" stroke="#4a9fe8" stroke-width="0.18">-0.275</text>
<text transform="translate(172.22,363.6) scale(0.981,1)" font-size="12" fill="#f2701e" stroke="#f2701e" stroke-width="0.18">DEA:</text>
<text transform="translate(201.28,363.6) scale(1.045,1)" font-size="12" fill="#f2701e" stroke="#f2701e" stroke-width="0.18">-0.078</text>
<text transform="translate(10.07,461.5) scale(1.027,1)" font-size="12" fill="#2bb5d5" stroke="#2bb5d5" stroke-width="0.18">K:</text>
<text transform="translate(22.69,461.5) scale(1.013,1)" font-size="12" fill="#2bb5d5" stroke="#2bb5d5" stroke-width="0.18">32.060</text>
<text transform="translate(68.84,461.5) scale(1.060,1)" font-size="12" fill="#8a58cc" stroke="#8a58cc" stroke-width="0.18">D:</text>
<text transform="translate(82.84,461.5) scale(1.028,1)" font-size="12" fill="#8a58cc" stroke="#8a58cc" stroke-width="0.18">46.803</text>
<text transform="translate(129.67,461.5) scale(0.912,1)" font-size="12" fill="#5aae5a" stroke="#5aae5a" stroke-width="0.18">J:</text>
<text transform="translate(138.90,461.5) scale(0.991,1)" font-size="12" fill="#5aae5a" stroke="#5aae5a" stroke-width="0.18">2.575</text>
<text transform="translate(9.70,558.4) scale(1.003,1)" font-size="12" fill="#f58220" stroke="#f58220" stroke-width="0.18">RSI(6):</text>
<text transform="translate(48.54,558.4) scale(1.011,1)" font-size="12" fill="#f58220" stroke="#f58220" stroke-width="0.18">17.556</text>
<text transform="translate(94.81,558.4) scale(0.987,1)" font-size="12" fill="#b058c8" stroke="#b058c8" stroke-width="0.18">RSI(12):</text>
<text transform="translate(140.20,558.4) scale(1.004,1)" font-size="12" fill="#b058c8" stroke="#b058c8" stroke-width="0.18">23.230</text>
<text transform="translate(187.24,558.4) scale(0.964,1)" font-size="12" fill="#5aae5a" stroke="#5aae5a" stroke-width="0.18">RSI(24):</text>
<text transform="translate(231.48,558.4) scale(1.032,1)" font-size="12" fill="#5aae5a" stroke="#5aae5a" stroke-width="0.18">26.043</text>
</svg></body></html>
